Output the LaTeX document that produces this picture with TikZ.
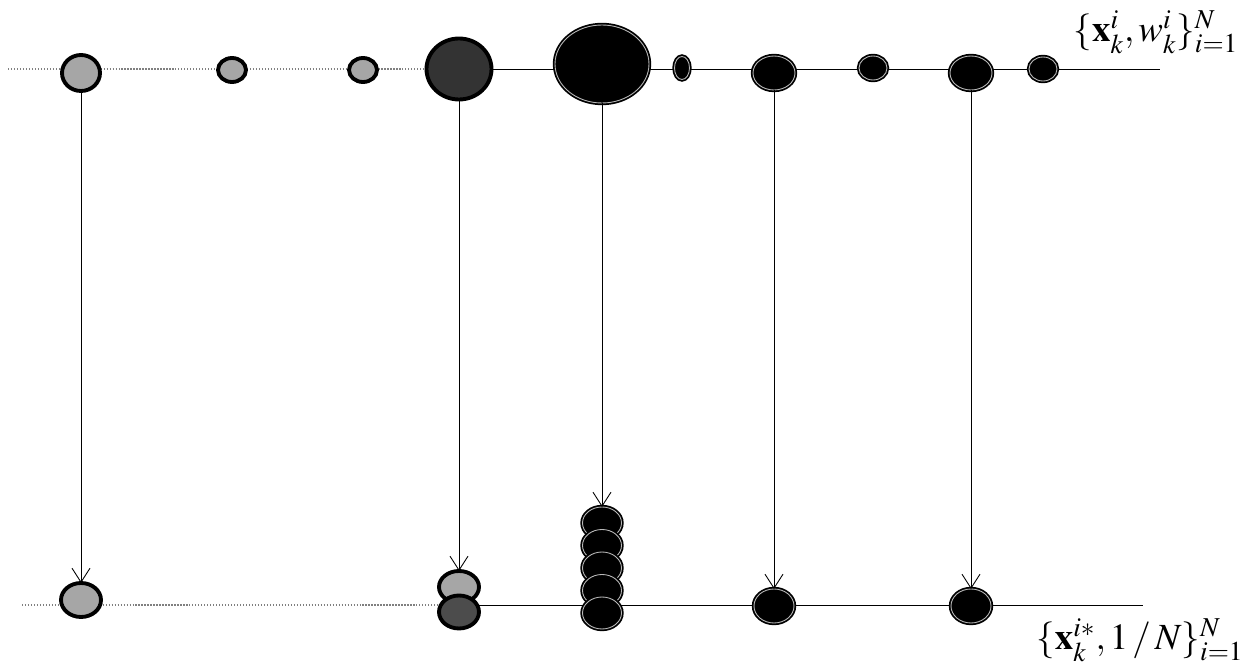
\documentclass[tikz,border=0pt]{standalone}
\usepackage{amsmath,amssymb}
\usepackage{mathptmx}
\usepackage{xcolor}
\usepackage{tikz}
\usetikzlibrary{arrows.meta,shapes.geometric}

\begin{document}
\begin{tikzpicture}[
    x=0.02cm, y=-0.02cm,
    every node/.style={inner sep=0pt, outer sep=0pt},
    part/.style={ellipse, draw=black},
    light/.style={part, fill=gray!70, line width=2.2pt},
    dark/.style={part, fill=black, line width=1pt, double=gray!55, double distance=0.5pt},
    dotline/.style={gray, densely dotted, line width=0.7pt},
    line/.style={black, line width=0.5pt},
    arr/.style={line, -{Straight Barb[length=2.8mm, width=3.6mm]}},
    lbl/.style={font=\fontsize{21}{25}\selectfont}
]
\useasboundingbox (0,0) rectangle (1249,665);
\coordinate (tl) at (8,69);
\coordinate (tm) at (461,69);
\coordinate (tr) at (1160,69);
\coordinate (bl) at (22,605);
\coordinate (bm) at (460,605);
\coordinate (br) at (1143,605);
\draw[dotline] (tl) -- (tm);
\draw[line] (tm) -- (tr);
\draw[dotline] (bl) -- (bm);
\draw[line] (bm) -- (br);

\node[light, minimum width=0.76cm, minimum height=0.72cm] (p1) at (81,73) {};
\node[light, minimum width=0.56cm, minimum height=0.48cm] (p2) at (232,70) {};
\node[light, minimum width=0.56cm, minimum height=0.48cm] (p3) at (363,70) {};
\node[light, fill=black!80, minimum width=1.3cm, minimum height=1.22cm] (p4) at (459,69) {};
\node[dark, minimum width=1.88cm, minimum height=1.56cm] (p5) at (602,64) {};
\node[dark, minimum width=0.3cm, minimum height=0.46cm] (p6) at (682,68) {};
\node[dark, minimum width=0.84cm, minimum height=0.68cm] (p7) at (774,73) {};
\node[dark, minimum width=0.56cm, minimum height=0.48cm] (p8) at (873,68) {};
\node[dark, minimum width=0.84cm, minimum height=0.68cm] (p9) at (971,73) {};
\node[dark, minimum width=0.56cm, minimum height=0.48cm] (p10) at (1043,69) {};

\node[light, minimum width=0.8cm, minimum height=0.68cm] (q1) at (81,600) {};
\node[light, minimum width=0.8cm, minimum height=0.64cm] (q2a) at (459,587) {};
\node[light, fill=black!70, minimum width=0.8cm, minimum height=0.66cm] (q2b) at (459,612) {};
\foreach \yy [count=\n] in {523,545.5,568,590.5,613}
    \node[dark, minimum width=0.78cm, minimum height=0.64cm] (s\n) at (602,\yy) {};
\node[dark, minimum width=0.8cm, minimum height=0.68cm] (q4) at (774,606) {};
\node[dark, minimum width=0.8cm, minimum height=0.68cm] (q5) at (971,606) {};

\draw[arr] (p1) -- (q1);
\draw[arr] (p4) -- (q2a);
\draw[arr] (p5) -- (s1);
\draw[arr] (p7) -- (q4);
\draw[arr] (p9) -- (q5);

\node[lbl] (top) at (1156,32) {$\{\mathbf{x}_k^i, w_k^i\}_{i=1}^N$};
\node[lbl] (bot) at (1140,640) {$\{\mathbf{x}_k^{i*}, 1\,/\,N\}_{i=1}^N$};
\end{tikzpicture}
\end{document}
